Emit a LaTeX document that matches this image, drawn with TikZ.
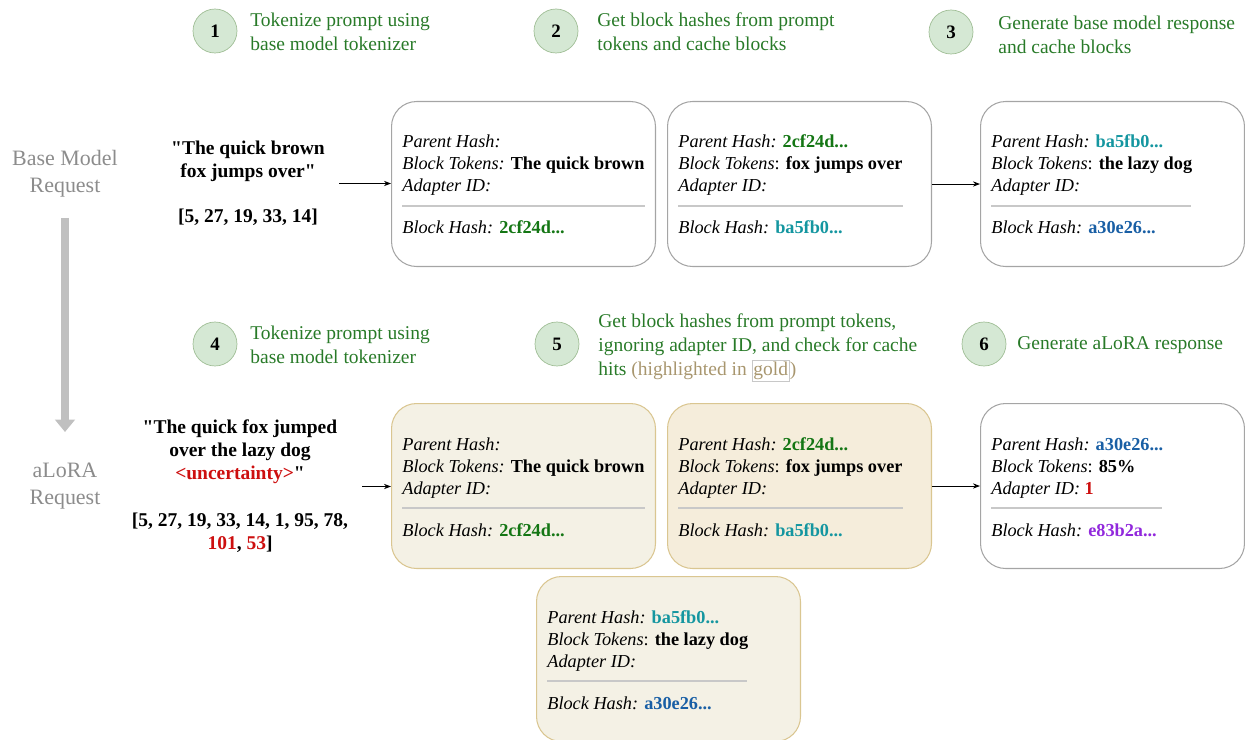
\documentclass[tikz,border=0pt]{standalone}
\usepackage{fontspec}
\setmainfont{Liberation Serif}
\newfontfamily\promptfont{Liberation Serif}
\usetikzlibrary{arrows.meta,positioning,calc}

\definecolor{stepgreen}{RGB}{40,122,40}
\definecolor{circfill}{RGB}{213,232,212}
\definecolor{circedge}{RGB}{160,190,150}
\definecolor{reqgray}{RGB}{140,140,140}
\definecolor{arrowgray}{RGB}{192,192,192}
\definecolor{boxedge}{RGB}{165,165,165}
\definecolor{sepgray}{RGB}{200,200,200}
\definecolor{goldfill}{RGB}{244,241,229}
\definecolor{goldfillb}{RGB}{245,237,219}
\definecolor{goldedge}{RGB}{218,198,145}
\definecolor{hitgold}{RGB}{168,150,110}
\definecolor{hgreen}{RGB}{20,118,20}
\definecolor{hteal}{RGB}{20,150,160}
\definecolor{hblue}{RGB}{25,95,165}
\definecolor{hpurple}{RGB}{145,40,220}
\definecolor{hred}{RGB}{205,15,15}

\newcommand{\hv}[2]{\textcolor{#1}{\textbf{#2}}}

\begin{document}
\begin{tikzpicture}[x=0.02cm,y=-0.02cm,
  stepnum/.style={draw=circedge,fill=circfill,circle,minimum size=0.88cm,inner sep=0,
    font=\fontsize{10.8}{12}\selectfont\bfseries},
  steptxt/.style={anchor=west,align=left,text=stepgreen,inner sep=0,
    font=\fontsize{11.1}{13.6}\selectfont},
  reqlbl/.style={align=center,text=reqgray,font=\fontsize{12.5}{15.4}\selectfont},
  prompt/.style={align=center,inner sep=8pt,font=\promptfont\fontsize{11.1}{12.9}\selectfont\bfseries},
  blk/.style={draw=boxedge,line width=0.6pt,rounded corners=0.5cm,anchor=north west,
    minimum width=5.28cm,minimum height=3.3cm,inner sep=0},
  hitblk/.style={blk,draw=goldedge,fill=goldfill},
  hitblkb/.style={blk,draw=goldedge,fill=goldfillb},
  rowtxt/.style={anchor=base west,inner sep=0,font=\fontsize{10.4}{12.5}\selectfont},
  sepline/.style={draw=sepgray,line width=0.6pt},
  link/.style={-{Stealth[length=4pt,width=3pt]},line width=0.5pt},
  bigarrow/.style={draw=arrowgray,line width=4pt,-{Triangle[width=11pt,length=7pt]}}]
  \useasboundingbox (0,0) rectangle (1245,740);

  % numbered steps
  \foreach \n/\cx/\cy/\tx/\ty/\txt in {
    1/215/31/250/32/{Tokenize prompt using\\base model tokenizer},
    2/556/31/597/32/{Get block hashes from prompt\\tokens and cache blocks},
    3/951/32/998/35/{Generate base model response\\and cache blocks},
    4/215/344/250/345/{Tokenize prompt using\\base model tokenizer},
    5/557/344/598/348/{Get block hashes from prompt tokens,\\ignoring adapter ID, and check for cache\\hits \textcolor{hitgold}{(highlighted in {\setlength{\fboxsep}{0.6pt}\fcolorbox{sepgray}{white}{\textcolor{hitgold}{gold}}})}},
    6/984/344/1017/345/{Generate aLoRA response}}{
    \node[stepnum] (s\n) at (\cx,\cy) {\n};
    \node[steptxt] (t\n) at (\tx,\ty) {\txt};
  }

  % requests
  \node[reqlbl] (lb1) at (65,174) {Base Model\\Request};
  \node[reqlbl] (lb2) at (65,486) {aLoRA\\Request};
  \draw[bigarrow,shorten <=0.88cm,shorten >=1.08cm] (lb1.center) -- (lb2.center);

  \node[prompt] (p1) at (248,183.5) {"The quick brown\\fox jumps over"\\[13pt][5, 27, 19, 33, 14]};
  \node[prompt,font=\promptfont\fontsize{11.1}{13}\selectfont\bfseries] (p2) at (240,486.5)
    {"The quick fox jumped\\over the lazy dog\\\textcolor{hred}{<uncertainty>}"\\[14pt][5, 27, 19, 33, 14, 1, 95, 78,\\\textcolor{hred}{101}, \textcolor{hred}{53}]};

  % cache blocks
  \foreach \nm/\x/\y/\sty/\ph/\bt/\ad/\bh/\sl in {
    b1/391/101/blk/{}/{{\itshape :} \textbf{The quick brown}}/{}/{\hv{hgreen}{2cf24d...}}/243,
    b2/667/101/blk/{\hv{hgreen}{2cf24d...}}/{: \textbf{fox jumps over}}/{}/{\hv{hteal}{ba5fb0...}}/225,
    b3/980/101/blk/{\hv{hteal}{ba5fb0...}}/{: \textbf{the lazy dog}}/{}/{\hv{hblue}{a30e26...}}/200,
    b4/391/403/hitblk/{}/{{\itshape :} \textbf{The quick brown}}/{}/{\hv{hgreen}{2cf24d...}}/243,
    b5/667/403/hitblkb/{\hv{hgreen}{2cf24d...}}/{: \textbf{fox jumps over}}/{}/{\hv{hteal}{ba5fb0...}}/225,
    b6/980/403/blk/{\hv{hblue}{a30e26...}}/{: \textbf{85\%}}/{\hv{hred}{1}}/{\hv{hpurple}{e83b2a...}}/171,
    b7/536/576/hitblk/{\hv{hteal}{ba5fb0...}}/{: \textbf{the lazy dog}}/{}/{\hv{hblue}{a30e26...}}/200}{
    \node[\sty] (\nm) at (\x,\y) {};
    \node[rowtxt] (\nm-p) at ($(\nm.north west)+(11,47)$) {{\itshape Parent Hash:} \ph};
    \node[rowtxt] (\nm-t) at ($(\nm.north west)+(11,69)$) {{\itshape Block Tokens}\bt};
    \node[rowtxt] (\nm-a) at ($(\nm.north west)+(11,91)$) {{\itshape Adapter ID:} \ad};
    \draw[sepline] ($(\nm.north west)+(11,105)$) -- ++(\sl,0);
    \node[rowtxt] (\nm-h) at ($(\nm.north west)+(11,133)$) {{\itshape Block Hash:} \bh};
  }

  \draw[link] (p1.east) -- (b1.west |- p1.east);
  \draw[link] (b2.east) -- (b3.west);
  \draw[link] (p2.east) -- (b4.west |- p2.east);
  \draw[link] (b5.east) -- (b6.west);
\end{tikzpicture}
\end{document}
